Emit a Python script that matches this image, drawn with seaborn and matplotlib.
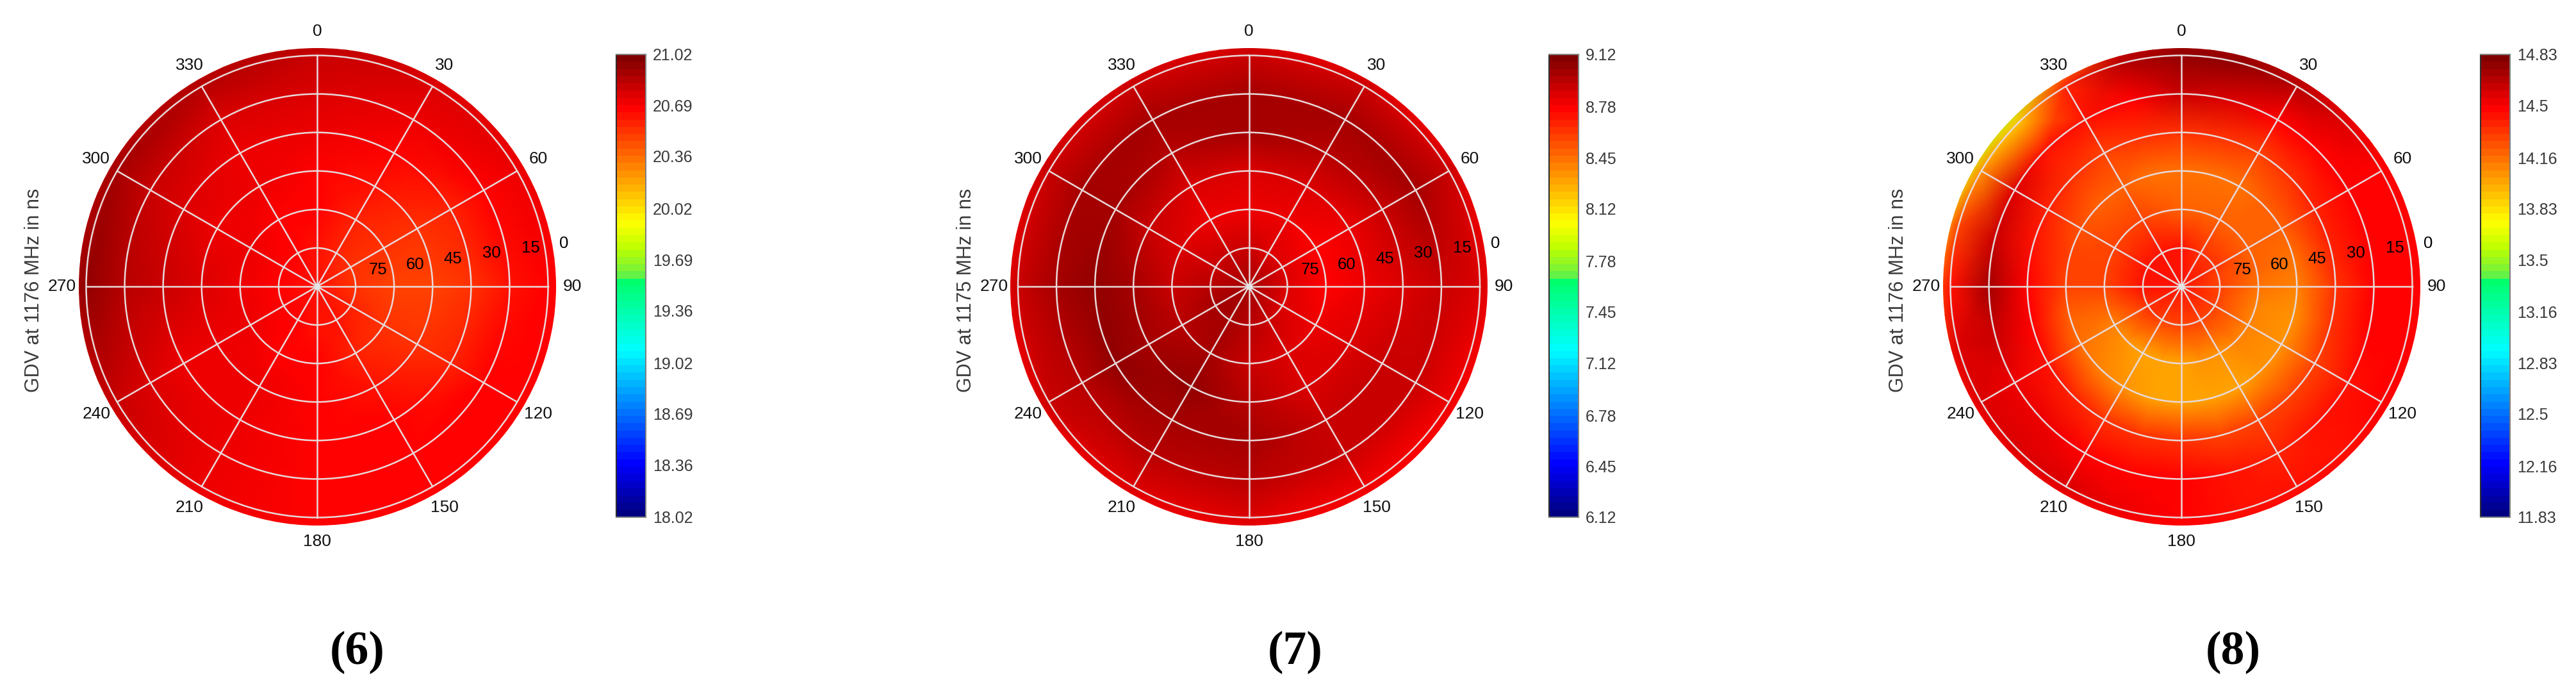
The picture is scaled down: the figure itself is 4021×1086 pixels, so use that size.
import numpy as np
import matplotlib
matplotlib.use("Agg")
import matplotlib.pyplot as plt
from matplotlib.colors import LinearSegmentedColormap
import seaborn as sns

W, H = 4021, 1086
LINE = "#e8d9d9"

RADII = [0, 15, 30, 45, 60, 75, 90, 97]
EL_LABELS = ["75", "60", "45", "30", "15", "0"]
EL_DX = [95, 153, 212, 272, 333, 385]
EL_DY = [26, 34, 43, 52, 60, 67]
AZ_TICKS = list(range(0, 360, 30))

# rows run clockwise from azimuth 0, columns follow RADII
gdv_6 = [
    [20.62, 20.63, 20.66, 20.69, 20.72, 20.78, 20.83, 20.86],
    [20.62, 20.58, 20.58, 20.62, 20.67, 20.72, 20.76, 20.78],
    [20.62, 20.55, 20.52, 20.53, 20.58, 20.65, 20.70, 20.72],
    [20.62, 20.54, 20.50, 20.50, 20.54, 20.62, 20.69, 20.69],
    [20.62, 20.56, 20.52, 20.53, 20.58, 20.65, 20.69, 20.69],
    [20.62, 20.60, 20.58, 20.60, 20.65, 20.68, 20.69, 20.69],
    [20.62, 20.64, 20.66, 20.68, 20.69, 20.69, 20.69, 20.69],
    [20.62, 20.67, 20.69, 20.70, 20.70, 20.70, 20.70, 20.70],
    [20.62, 20.69, 20.70, 20.71, 20.73, 20.76, 20.80, 20.80],
    [20.62, 20.69, 20.71, 20.74, 20.80, 20.87, 20.95, 20.90],
    [20.62, 20.68, 20.70, 20.72, 20.76, 20.82, 20.88, 20.87],
    [20.62, 20.66, 20.68, 20.70, 20.73, 20.78, 20.85, 20.85],
]
gdv_7 = [
    [9.00, 8.93, 8.80, 8.85, 8.98, 8.98, 8.92, 8.85],
    [9.00, 8.88, 8.80, 8.84, 8.95, 8.98, 8.90, 8.82],
    [9.00, 8.86, 8.79, 8.81, 8.90, 8.98, 8.90, 8.82],
    [9.00, 8.84, 8.78, 8.80, 8.88, 8.93, 8.88, 8.80],
    [9.00, 8.86, 8.80, 8.84, 8.90, 8.90, 8.82, 8.79],
    [9.00, 8.90, 8.86, 8.88, 8.93, 8.90, 8.80, 8.79],
    [9.00, 8.95, 8.93, 8.97, 8.98, 8.95, 8.85, 8.80],
    [9.00, 8.98, 8.98, 9.03, 9.02, 8.95, 8.88, 8.82],
    [9.00, 8.98, 8.96, 9.00, 9.03, 8.95, 8.90, 8.82],
    [9.00, 8.95, 8.92, 8.98, 9.05, 9.00, 8.92, 8.82],
    [9.00, 8.92, 8.85, 8.90, 9.00, 9.00, 8.92, 8.84],
    [9.00, 8.92, 8.82, 8.86, 8.96, 8.98, 8.92, 8.85],
]
gdv_8 = [
    [14.45, 14.42, 14.20, 14.15, 14.35, 14.62, 14.78, 14.72],
    [14.45, 14.38, 14.20, 14.16, 14.33, 14.58, 14.78, 14.72],
    [14.45, 14.35, 14.20, 14.17, 14.30, 14.50, 14.68, 14.62],
    [14.45, 14.33, 14.20, 14.18, 14.33, 14.50, 14.55, 14.50],
    [14.45, 14.33, 14.22, 14.20, 14.38, 14.50, 14.50, 14.50],
    [14.45, 14.30, 14.18, 14.14, 14.37, 14.50, 14.50, 14.50],
    [14.45, 14.30, 14.13, 14.09, 14.35, 14.50, 14.50, 14.50],
    [14.45, 14.30, 14.11, 14.07, 14.32, 14.48, 14.50, 14.50],
    [14.45, 14.30, 14.10, 14.07, 14.30, 14.45, 14.50, 14.50],
    [14.45, 14.30, 14.08, 14.05, 14.28, 14.42, 14.45, 14.50],
    [14.45, 14.30, 14.06, 14.03, 14.28, 14.40, 14.42, 14.48],
    [14.45, 14.30, 14.04, 14.01, 14.30, 14.42, 14.45, 14.50],
    [14.45, 14.30, 14.02, 14.01, 14.33, 14.48, 14.50, 14.50],
    [14.45, 14.30, 14.00, 14.01, 14.32, 14.48, 14.52, 14.50],
    [14.45, 14.30, 14.02, 14.04, 14.33, 14.50, 14.55, 14.50],
    [14.45, 14.32, 14.07, 14.09, 14.38, 14.52, 14.55, 14.50],
    [14.45, 14.35, 14.12, 14.15, 14.42, 14.53, 14.58, 14.50],
    [14.45, 14.38, 14.19, 14.22, 14.47, 14.60, 14.55, 14.40],
    [14.45, 14.42, 14.27, 14.30, 14.50, 14.70, 14.42, 14.20],
    [14.45, 14.43, 14.28, 14.28, 14.45, 14.62, 14.30, 13.90],
    [14.45, 14.45, 14.30, 14.25, 14.40, 14.55, 14.05, 13.65],
    [14.45, 14.43, 14.30, 14.22, 14.33, 14.42, 13.92, 13.55],
    [14.45, 14.45, 14.30, 14.20, 14.30, 14.45, 14.40, 14.10],
    [14.45, 14.43, 14.25, 14.17, 14.33, 14.50, 14.68, 14.62],
]

ticks_6 = [21.02, 20.69, 20.36, 20.02, 19.69, 19.36, 19.02, 18.69, 18.36, 18.02]
ticks_7 = [9.12, 8.78, 8.45, 8.12, 7.78, 7.45, 7.12, 6.78, 6.45, 6.12]
ticks_8 = [14.83, 14.5, 14.16, 13.83, 13.5, 13.16, 12.83, 12.5, 12.16, 11.83]

PANELS = [
    {"data": gdv_6, "ticks": ticks_6, "label": "GDV at 1176 MHz in ns", "tag": "(6)",
     "cx": 495, "bar": 962, "lab_x": 53, "tag_x": 558},
    {"data": gdv_7, "ticks": ticks_7, "label": "GDV at 1175 MHz in ns", "tag": "(7)",
     "cx": 1949.5, "bar": 2418, "lab_x": 1508, "tag_x": 2022},
    {"data": gdv_8, "ticks": ticks_8, "label": "GDV at 1176 MHz in ns", "tag": "(8)",
     "cx": 3405, "bar": 3872, "lab_x": 2963, "tag_x": 3486},
]

sns.set_theme(style="white")
plt.rcParams["font.family"] = ["Liberation Sans", "DejaVu Sans"]

# matlab style 64 level jet, with the jump in the green part of the original bar
cmap = LinearSegmentedColormap.from_list("gdv_jet", [
    (0.0, "#000080"), (0.11, "#0000ff"), (0.36, "#00ffff"), (0.515, "#00ff66"),
    (0.525, "#70f040"), (0.585, "#bfff00"), (0.64, "#ffff00"), (0.89, "#ff0000"),
    (1.0, "#800000"),
], N=64)

fig = plt.figure(figsize=(W / 100, H / 100), dpi=100, facecolor="white")


def px_axes(x0, y0, x1, y1, **kw):
    return fig.add_axes([x0 / W, 1 - y1 / H, (x1 - x0) / W, (y1 - y0) / H], **kw)


def draw_panel(p):
    cy, R = 447, 372.5
    ax = px_axes(p["cx"] - R, cy - R, p["cx"] + R, cy + R, projection="polar")
    ax.set_theta_zero_location("N")
    ax.set_theta_direction(-1)

    vmin, vmax = min(p["ticks"]), max(p["ticks"])
    vals = np.array(p["data"])
    vals = np.vstack([vals, vals[:1]])
    az = np.radians(np.linspace(0, 360, len(vals)))
    ax.pcolormesh(az, RADII, vals.T, shading="gouraud", cmap=cmap, vmin=vmin, vmax=vmax)

    ax.set_ylim(0, 90 * R / 360.5)
    ax.set_xticks([])
    ax.set_yticks([15, 30, 45, 60, 75, 90])
    ax.set_yticklabels([])
    ax.set_axisbelow(False)
    ax.yaxis.grid(True, color=LINE, lw=1.8)
    ax.xaxis.grid(False)
    ax.spines["polar"].set_visible(False)
    for a in AZ_TICKS:
        ax.plot([np.radians(a)] * 2, [0, 90], color=LINE, lw=1.8, zorder=3)
        ax.text(np.radians(a), 99.4, str(a), ha="center", va="center", fontsize=19,
                color="#111111", clip_on=False)
    ax.plot([0], [0], "o", ms=6, color="#e4e4e4", zorder=4)
    for lab, dx, dy in zip(EL_LABELS, EL_DX, EL_DY):
        ax.annotate(lab, xy=(0, 0), xytext=(dx, dy), textcoords="offset pixels",
                    ha="center", va="center", fontsize=18.5, color="black",
                    annotation_clip=False)

    cax = px_axes(p["bar"], 85, p["bar"] + 46, 807)
    strip = np.linspace(vmax, vmin, 64).reshape(-1, 1)
    sns.heatmap(strip, ax=cax, cmap=cmap, vmin=vmin, vmax=vmax, cbar=False,
                xticklabels=False, yticklabels=False)
    cax.set_yticks([(vmax - t) / (vmax - vmin) * 64 for t in p["ticks"]])
    cax.set_yticklabels([str(t) for t in p["ticks"]], rotation=0, color="#3a3a3a")
    cax.tick_params(axis="y", left=False, right=True, labelleft=False, labelright=True,
                    direction="in", length=5, width=1.2, pad=8, labelsize=18, color="#333333")
    for side, col in [("left", "#303030"), ("right", "#808080"), ("top", "#808080"), ("bottom", "#808080")]:
        cax.spines[side].set_visible(True)
        cax.spines[side].set_color(col)
        cax.spines[side].set_linewidth(1.5)

    fig.text(p["lab_x"] / W, 1 - 453 / H, p["label"], rotation=90, ha="center", va="center",
             fontsize=22, color="#3a3a3a")
    fig.text(p["tag_x"] / W, 1 - 1018 / H, p["tag"], ha="center", va="center", fontsize=53,
             family="Liberation Serif", weight="bold", color="black")


for panel in PANELS:
    draw_panel(panel)

fig.savefig("out.png", dpi=100, facecolor="white")
